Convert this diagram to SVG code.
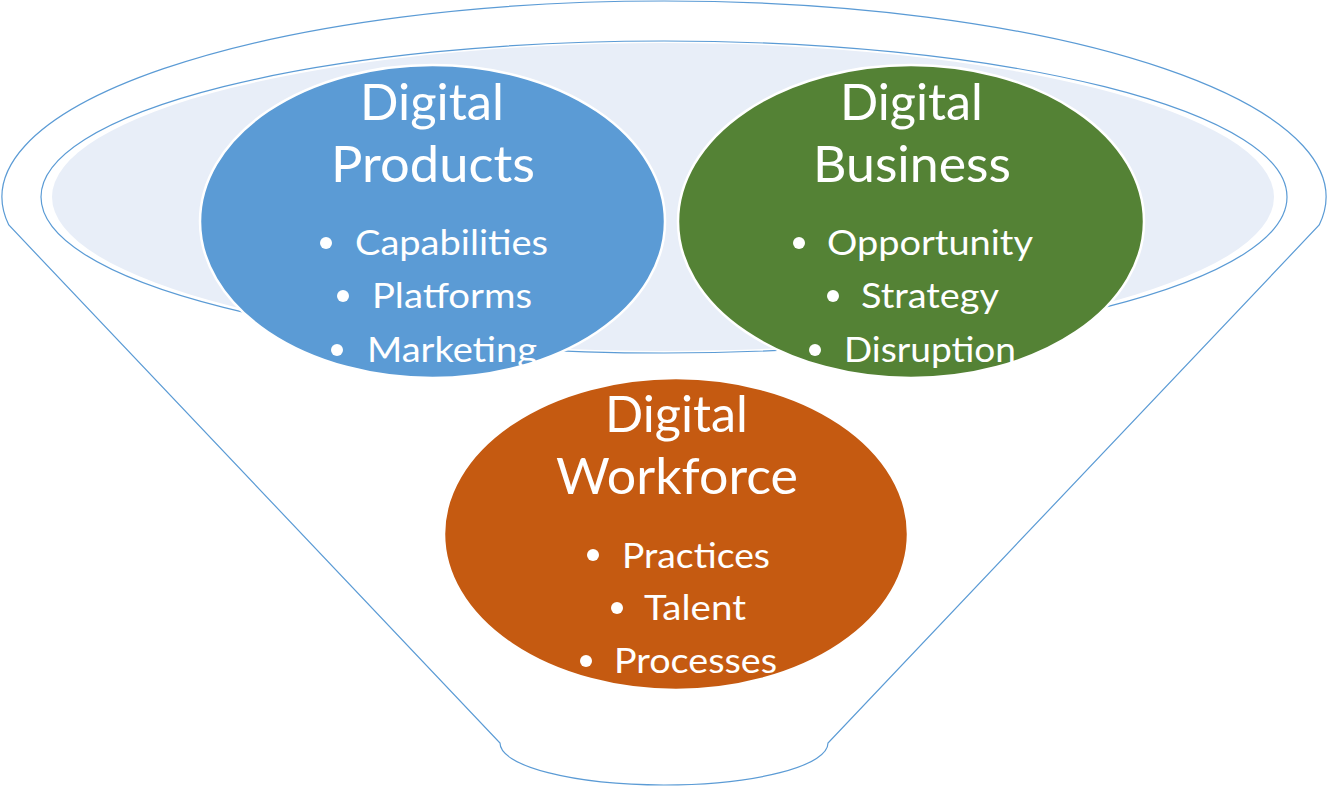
<svg xmlns="http://www.w3.org/2000/svg" width="1328" height="808" viewBox="0 0 1328 808">
<style>
.ln{fill:none;stroke:#5B9BD5;stroke-width:1.2}
.node{stroke:#FFFFFF;stroke-width:2.5}
.t{font-family:Lato,"Open Sans","Liberation Sans",sans-serif;fill:#FFFFFF}
.h{font-size:51px}
.b{font-size:35px}
.dot{fill:#FFFFFF}
</style>
<rect width="1328" height="808" fill="#FFFFFF"/>
<g id="funnel">
<path class="ln" d="M 8.8 225 A 662 196 0 1 1 1319.2 225 L 828 743 A 164 42 0 0 1 500 743 Z" fill="#FFFFFF"/>
<ellipse cx="663" cy="197" rx="611" ry="154" fill="#E8EEF8"/>
<ellipse class="ln" cx="664" cy="197" rx="623" ry="156"/>
</g>
<g id="connectors"></g>
<g id="digital-products">
<ellipse class="node" cx="432.5" cy="221.5" rx="232.5" ry="156.5" fill="#5B9BD5"/>
<text class="t h" x="360" y="120" textLength="144" lengthAdjust="spacingAndGlyphs">Digital</text>
<text class="t h" x="331" y="182" textLength="204" lengthAdjust="spacingAndGlyphs">Products</text>
<circle class="dot" cx="326" cy="243" r="6"/>
<text class="t b" x="355" y="255" textLength="193" lengthAdjust="spacingAndGlyphs">Capabilities</text>
<circle class="dot" cx="343" cy="296" r="6"/>
<text class="t b" x="372" y="308" textLength="160" lengthAdjust="spacingAndGlyphs">Platforms</text>
<circle class="dot" cx="337" cy="350" r="6"/>
<text class="t b" x="367" y="362" textLength="170" lengthAdjust="spacingAndGlyphs">Marketing</text>
</g>
<g id="digital-business">
<ellipse class="node" cx="911" cy="221.5" rx="233" ry="156.5" fill="#548235"/>
<text class="t h" x="840" y="120" textLength="143" lengthAdjust="spacingAndGlyphs">Digital</text>
<text class="t h" x="813" y="182" textLength="198" lengthAdjust="spacingAndGlyphs">Business</text>
<circle class="dot" cx="799" cy="243" r="6"/>
<text class="t b" x="827" y="255" textLength="206" lengthAdjust="spacingAndGlyphs">Opportunity</text>
<circle class="dot" cx="833" cy="296" r="6"/>
<text class="t b" x="861" y="308" textLength="138" lengthAdjust="spacingAndGlyphs">Strategy</text>
<circle class="dot" cx="815" cy="350" r="6"/>
<text class="t b" x="844" y="362" textLength="172" lengthAdjust="spacingAndGlyphs">Disruption</text>
</g>
<g id="digital-workforce">
<ellipse class="node" cx="676" cy="534" rx="232" ry="156" fill="#C55A11"/>
<text class="t h" x="605" y="432" textLength="143" lengthAdjust="spacingAndGlyphs">Digital</text>
<text class="t h" x="556" y="494" textLength="242" lengthAdjust="spacingAndGlyphs">Workforce</text>
<circle class="dot" cx="593" cy="555" r="6"/>
<text class="t b" x="622" y="568" textLength="148" lengthAdjust="spacingAndGlyphs">Practices</text>
<circle class="dot" cx="617" cy="608" r="6"/>
<text class="t b" x="644" y="620" textLength="102" lengthAdjust="spacingAndGlyphs">Talent</text>
<circle class="dot" cx="586" cy="661" r="6"/>
<text class="t b" x="614" y="673" textLength="163" lengthAdjust="spacingAndGlyphs">Processes</text>
</g>
</svg>
